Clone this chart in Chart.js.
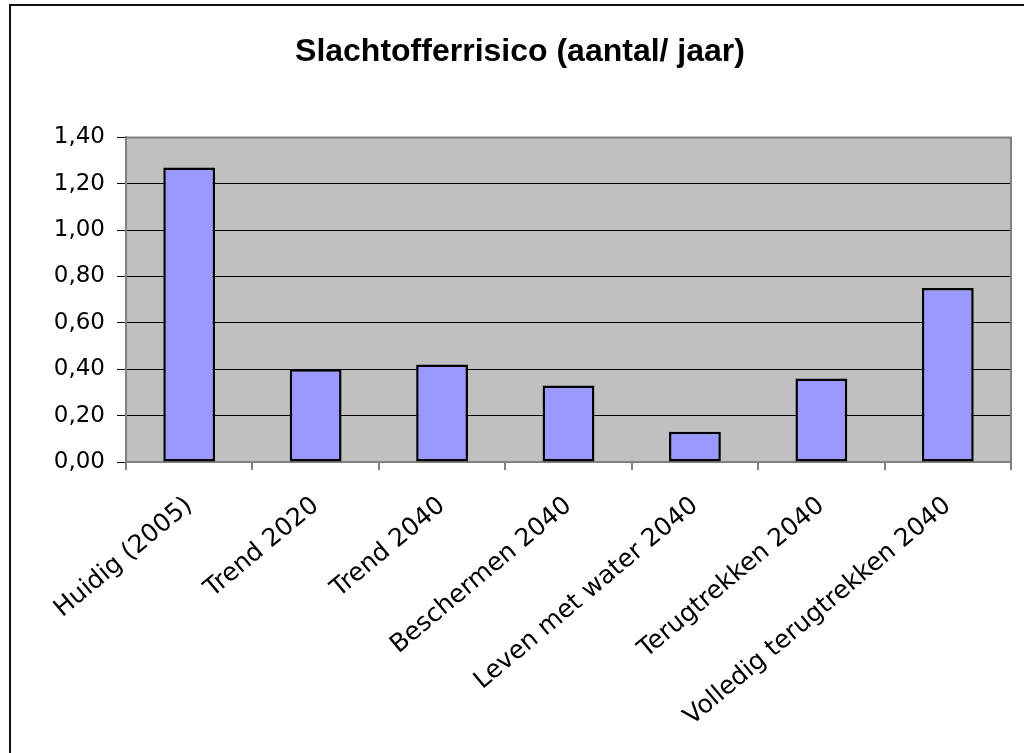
<!DOCTYPE html>
<html>
<head>
<meta charset="utf-8">
<script src="https://cdn.jsdelivr.net/npm/chart.js@4/dist/chart.umd.min.js"></script>
<style>
  html, body { margin: 0; padding: 0; background: #fff; }
  #wrap { width: 1024px; height: 753px; position: relative; }
</style>
</head>
<body>
<div id="wrap"><canvas id="c" width="1024" height="753"></canvas></div>
<script>
const titleText = "Slachtofferrisico (aantal/ jaar)";
const categories = [
  "Huidig (2005)",
  "Trend 2020",
  "Trend 2040",
  "Beschermen 2040",
  "Leven met water 2040",
  "Terugtrekken 2040",
  "Volledig terugtrekken 2040"
];
const slachtofferrisico = [1.27, 0.40, 0.42, 0.33, 0.13, 0.36, 0.75];
const yTickValues = [0, 0.2, 0.4, 0.6, 0.8, 1.0, 1.2, 1.4];
const yTickLabels = ["0,00", "0,20", "0,40", "0,60", "0,80", "1,00", "1,20", "1,40"];

const frame = {
  id: 'frame',
  beforeDraw(chart) {
    const {ctx, chartArea: a} = chart;
    ctx.save();
    ctx.fillStyle = '#C0C0C0';
    ctx.fillRect(a.left, a.top, a.right - a.left, a.bottom - a.top);
    ctx.restore();
  },
  afterDatasetsDraw(chart) {
    const {ctx, chartArea: a} = chart;
    ctx.save();
    ctx.strokeStyle = '#808080';
    ctx.lineWidth = 2;
    ctx.beginPath();
    ctx.moveTo(a.left, a.top);
    ctx.lineTo(a.right, a.top);
    ctx.lineTo(a.right, a.bottom);
    ctx.stroke();
    ctx.restore();
  },
  afterDraw(chart) {
    const ctx = chart.ctx;
    ctx.save();
    ctx.strokeStyle = '#111';
    ctx.lineWidth = 2;
    ctx.beginPath();
    ctx.moveTo(10, 760);
    ctx.lineTo(10, 5);
    ctx.lineTo(1030, 5);
    ctx.stroke();
    ctx.restore();
  }
};

new Chart(document.getElementById('c'), {
  type: 'bar',
  data: {
    labels: categories,
    datasets: [{
      data: slachtofferrisico,
      backgroundColor: '#9999FF',
      borderColor: '#000000',
      borderWidth: 2.5,
      borderSkipped: false,
      barPercentage: 0.41,
      categoryPercentage: 1.0
    }]
  },
  options: {
    responsive: false,
    animation: false,
    devicePixelRatio: 1,
    layout: { padding: { left: 29, right: 13, top: 0, bottom: 0 } },
    plugins: {
      legend: { display: false },
      tooltip: { enabled: false },
      title: {
        display: true,
        text: titleText,
        color: '#000',
        font: { family: "'Liberation Sans', Arial, sans-serif", size: 32, weight: 'bold' },
        padding: { top: 33, bottom: 66 }
      }
    },
    scales: {
      x: {
        offset: true,
        grid: {
          offset: true,
          drawOnChartArea: false,
          drawTicks: true,
          tickLength: 8,
          tickColor: '#808080',
          lineWidth: 2
        },
        border: { display: true, color: '#808080', width: 2 },
        ticks: {
          autoSkip: false,
          minRotation: 40,
          maxRotation: 40,
          padding: 21,
          color: '#000',
          font: { family: "'DejaVu Sans', sans-serif", size: 25 }
        },
        afterFit(scale) { scale.height = 291; }
      },
      y: {
        min: 0,
        max: 1.4,
        afterBuildTicks(scale) { scale.ticks = yTickValues.map(v => ({ value: v })); },
        grid: {
          color: (c) => (c.tick && (c.tick.value === 1.4 || c.tick.value === 0)) ? '#808080' : '#000000',
          tickColor: '#000000',
          lineWidth: 1,
          tickLength: 9
        },
        border: { display: true, color: '#808080', width: 2 },
        ticks: {
          padding: 12,
          color: '#000',
          font: { family: "'DejaVu Sans', sans-serif", size: 23 },
          callback: (v, i) => yTickLabels[i]
        },
        afterFit(scale) { scale.width = 97; }
      }
    }
  },
  plugins: [frame]
});
</script>
</body>
</html>
